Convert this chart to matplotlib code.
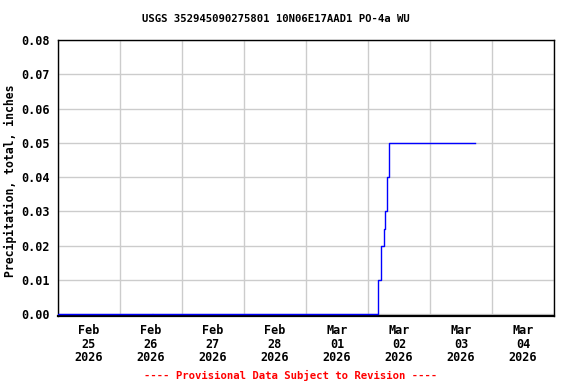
import matplotlib
matplotlib.use('Agg')
import matplotlib.pyplot as plt
import numpy as np
from datetime import datetime, timedelta

TITLE = 'USGS 352945090275801 10N06E17AAD1 PO-4a WU'
YLABEL = 'Precipitation, total, inches'
FOOTER = '---- Provisional Data Subject to Revision ----'

# two segments of record, split by a short gap on Feb 26
seg1_times = ['2026-02-25 00:00', '2026-02-26 12:15']
seg1_vals = [0.00, 0.00]
seg2_times = ['2026-02-26 12:45', '2026-03-02 04:00', '2026-03-02 05:00',
              '2026-03-02 06:00', '2026-03-02 06:30', '2026-03-02 07:30',
              '2026-03-02 08:00', '2026-03-03 17:30']
seg2_vals = [0.00, 0.01, 0.02, 0.025, 0.03, 0.04, 0.05, 0.05]

yticks = [0.00, 0.01, 0.02, 0.03, 0.04, 0.05, 0.06, 0.07, 0.08]
day_labels = ['Feb\n25\n2026', 'Feb\n26\n2026', 'Feb\n27\n2026', 'Feb\n28\n2026',
              'Mar\n01\n2026', 'Mar\n02\n2026', 'Mar\n03\n2026', 'Mar\n04\n2026']

plt.rcParams['font.family'] = 'DejaVu Sans Mono'
plt.rcParams['font.weight'] = 'bold'

fig = plt.figure(figsize=(5.76, 3.84), dpi=100)
ax = fig.add_axes([58 / 576, 1 - 316 / 384, 496 / 576, 276 / 384])

def parse(ts):
    return [datetime.strptime(t, '%Y-%m-%d %H:%M') for t in ts]

for ts, vs in [(seg1_times, seg1_vals), (seg2_times, seg2_vals)]:
    ax.step(parse(ts), vs, where='post', color='#0000ff', lw=1.0, zorder=3)

start = datetime(2026, 2, 25)
end = datetime(2026, 3, 5)
ax.set_xlim(start, end)
ax.set_ylim(-0.0005, 0.08)

midnights = [start + timedelta(days=i) for i in range(9)]
noons = [start + timedelta(days=i, hours=12) for i in range(8)]
ax.set_xticks(midnights)
ax.set_xticklabels([])
ax.set_xticks(noons, minor=True)
ax.set_xticklabels(day_labels, minor=True, fontsize=8.5, fontweight='bold',
                   linespacing=1.02)
ax.tick_params(axis='x', which='both', length=0, pad=6)

ax.set_yticks(yticks)
ax.set_yticklabels([f'{v:.2f}' for v in yticks], fontsize=8.5, fontweight='bold')
ax.tick_params(axis='y', length=0, pad=6)

ax.grid(True, which='major', color='#cccccc', lw=1.0)
ax.set_axisbelow(True)
for s in ax.spines.values():
    s.set_color('black')
    s.set_linewidth(1.0)
ax.spines['bottom'].set_linewidth(1.6)

ax.set_ylabel(YLABEL, fontsize=8.3, fontweight='bold')
ax.yaxis.set_label_coords(-0.082, 0.49)
fig.text(276 / 576, 1 - 19 / 384, TITLE, ha='center', va='center',
         fontsize=7.7, fontweight='bold')
fig.text(291 / 576, 1 - 375 / 384, FOOTER, ha='center', va='center',
         fontsize=7.7, fontweight='bold', color='red')

fig.savefig('out.png', dpi=100, facecolor='white')
